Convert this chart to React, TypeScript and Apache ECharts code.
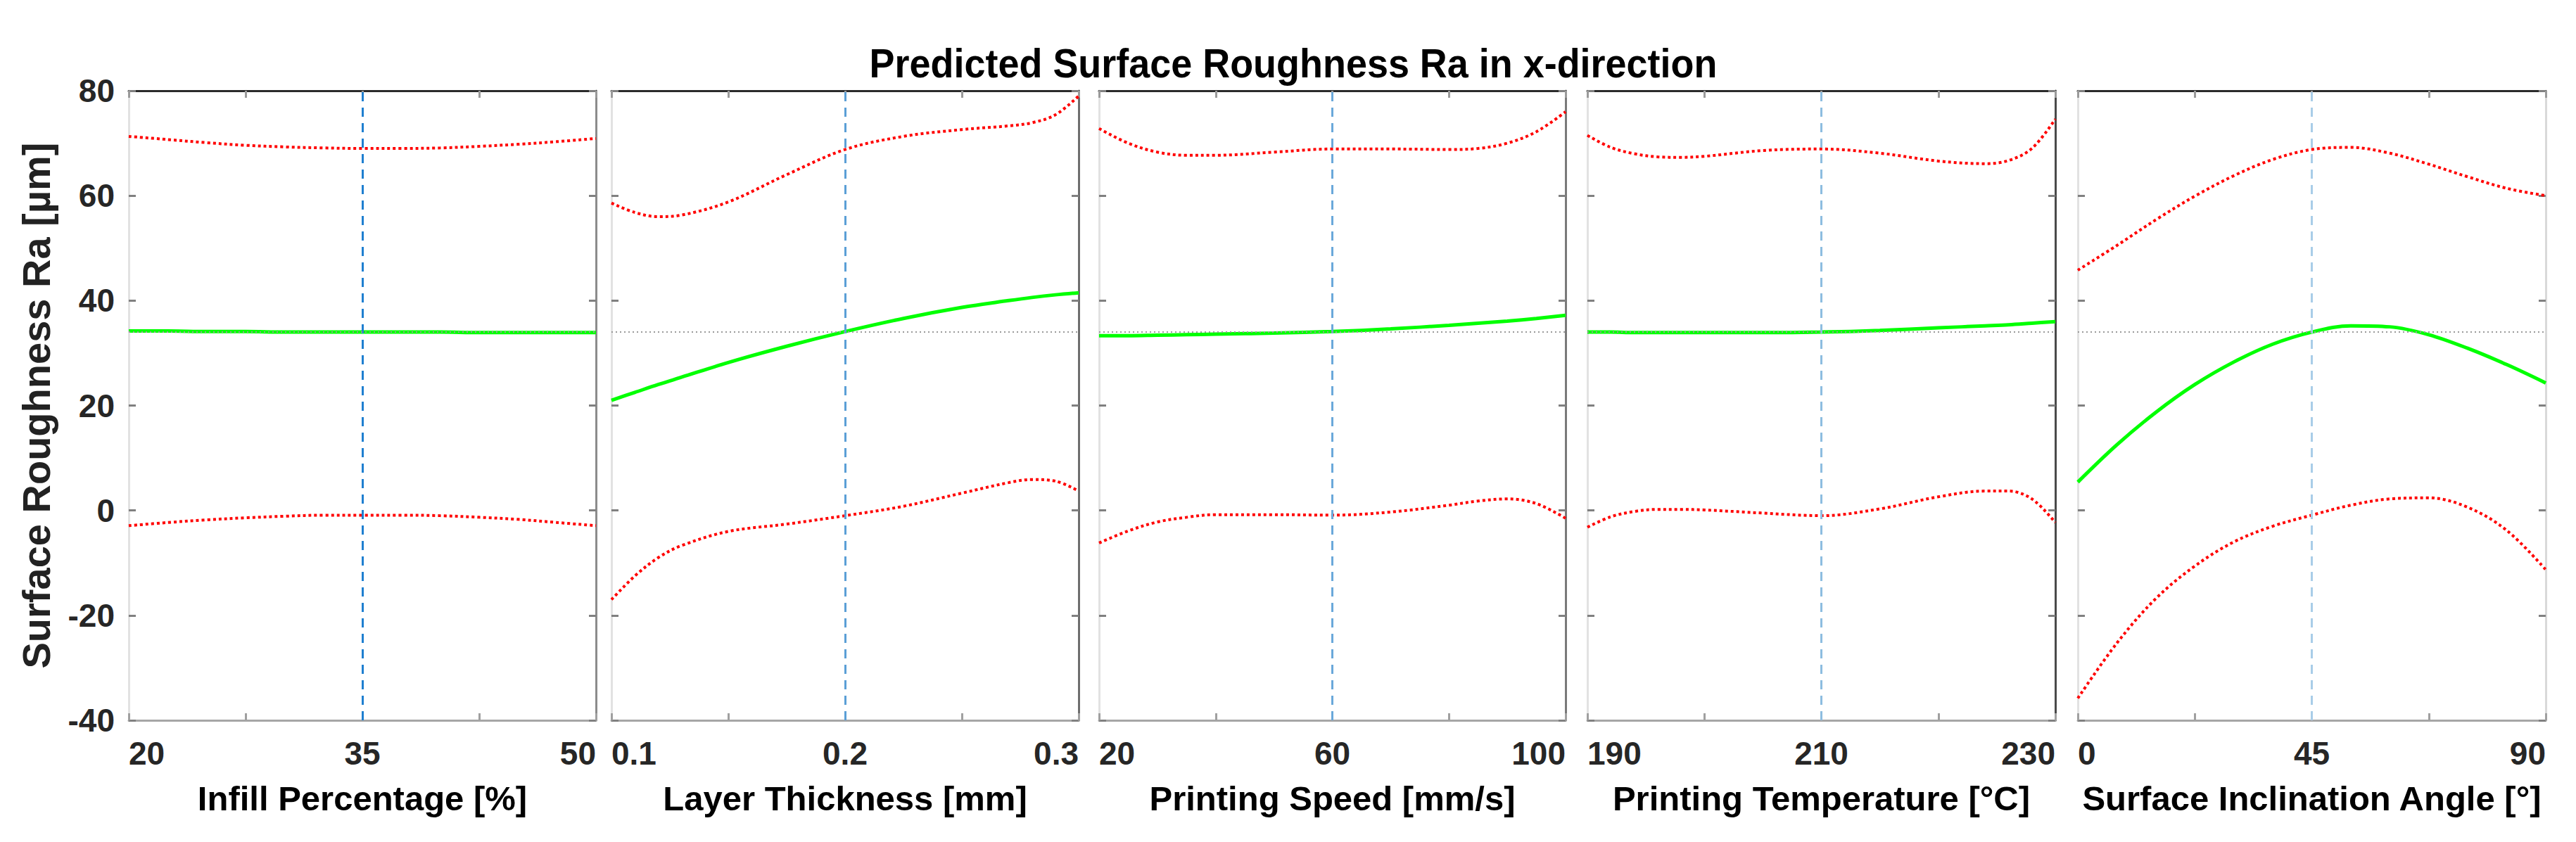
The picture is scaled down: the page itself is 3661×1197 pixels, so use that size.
import React, { useEffect, useRef } from "react";
import * as echarts from "echarts";

// ---------- data ----------
const titleText = "Predicted Surface Roughness Ra in x-direction";
const yAxisTitle = "Surface Roughness Ra [µm]";
const yMin = -40;
const yMax = 80;
const yStep = 20;
const meanLevel = 34;

const infillX = [20, 22.5, 25, 27.5, 30, 32.5, 35, 37.5, 40, 42.5, 45, 47.5, 50];
const infillUpper = [71.3, 70.7, 70.1, 69.6, 69.3, 69.1, 69.0, 69.0, 69.1, 69.4, 69.8, 70.3, 70.9];
const infillMean = [34.2, 34.2, 34.1, 34.1, 34.0, 34.0, 34.0, 34.0, 34.0, 33.9, 33.9, 33.9, 33.9];
const infillLower = [-2.9, -2.3, -1.8, -1.4, -1.1, -0.9, -0.9, -0.9, -1.0, -1.3, -1.7, -2.3, -2.9];
const infillTicks = ["20", "35", "50"];

const layerX = [0.1, 0.11, 0.12, 0.13, 0.15, 0.175, 0.2, 0.225, 0.25, 0.27, 0.28, 0.29, 0.3];
const layerUpper = [58.6, 56.8, 56.0, 56.3, 58.8, 64.0, 68.8, 71.3, 72.6, 73.3, 73.9, 75.4, 79.0];
const layerMean = [21.0, 22.5, 24.0, 25.4, 28.2, 31.3, 34.1, 36.6, 38.7, 40.0, 40.6, 41.1, 41.5];
const layerLower = [-17.0, -12.5, -9.0, -6.7, -4.0, -2.6, -1.0, 0.8, 3.3, 5.3, 5.9, 5.6, 3.7];
const layerTicks = ["0.1", "0.2", "0.3"];

const speedX = [20, 25, 30, 35, 40, 50, 60, 70, 80, 85, 90, 95, 100];
const speedUpper = [72.8, 70.0, 68.3, 67.7, 67.7, 68.3, 68.9, 68.9, 68.8, 69.0, 70.0, 72.2, 76.0];
const speedMean = [33.3, 33.3, 33.4, 33.5, 33.6, 33.8, 34.1, 34.6, 35.3, 35.7, 36.1, 36.6, 37.2];
const speedLower = [-6.2, -3.9, -2.2, -1.3, -0.8, -0.8, -0.9, -0.3, 1.0, 1.8, 2.2, 1.3, -1.5];
const speedTicks = ["20", "60", "100"];

const tempX = [190, 192, 194, 196, 198, 200, 205, 210, 215, 220, 224, 226, 228, 230];
const tempUpper = [71.5, 69.2, 68.0, 67.4, 67.3, 67.5, 68.6, 68.9, 68.1, 66.6, 66.1, 66.7, 69.0, 74.6];
const tempMean = [34.0, 34.0, 33.9, 33.9, 33.9, 33.9, 33.9, 34.0, 34.3, 34.8, 35.2, 35.4, 35.7, 36.0];
const tempLower = [-3.2, -1.2, -0.2, 0.2, 0.2, 0.1, -0.5, -1.0, 0.3, 2.6, 3.7, 3.7, 2.2, -2.3];
const tempTicks = ["190", "210", "230"];

const angleX = [0, 7.5, 15, 22.5, 30, 37.5, 45, 52.5, 60, 67.5, 75, 82.5, 90];
const angleUpper = [45.8, 50.5, 55.4, 59.9, 63.8, 66.9, 68.8, 69.2, 68.1, 66.0, 63.6, 61.4, 60.0];
const angleMean = [5.4, 12.5, 18.7, 24.0, 28.3, 31.7, 34.0, 35.2, 35.0, 33.5, 30.9, 27.8, 24.3];
const angleLower = [-35.8, -25.3, -16.8, -10.6, -6.0, -3.0, -0.9, 1.0, 2.2, 2.4, 0.6, -3.8, -11.3];
const angleTicks = ["0", "45", "90"];

const xNames = [
  "Infill Percentage [%]",
  "Layer Thickness [mm]",
  "Printing Speed [mm/s]",
  "Printing Temperature [°C]",
  "Surface Inclination Angle [°]",
];
const xMins = [20, 0.1, 20, 190, 0];
const xMaxs = [50, 0.3, 100, 230, 90];
const xCenters = [35, 0.2, 60, 210, 45];

// ---------- layout / style ----------
const W = 3661;
const H = 1197;
const gridLefts = [183, 869, 1562, 2256, 2953];
const gridWidths = [664, 664, 663, 665, 665];
const gridTop = 129;
const gridHeight = 895;
const rightLineColors = ["#8c8c8c", "#6e6e6e", "#7a7a7a", "#4a4a4a", "#d9d9d9"];
const dashColors = ["#1f7fd0", "#5b9fd6", "#6aa8da", "#8dbde0", "#a9cde8"];
const FONT = "'Liberation Sans', Arial, Helvetica, sans-serif";

function buildOption() {
  const xs = [infillX, layerX, speedX, tempX, angleX];
  const ups = [infillUpper, layerUpper, speedUpper, tempUpper, angleUpper];
  const means = [infillMean, layerMean, speedMean, tempMean, angleMean];
  const lows = [infillLower, layerLower, speedLower, tempLower, angleLower];
  const ticks = [infillTicks, layerTicks, speedTicks, tempTicks, angleTicks];

  const grid: any[] = [];
  const xAxis: any[] = [];
  const yAxis: any[] = [];
  const series: any[] = [];

  for (let i = 0; i < 5; i++) {
    grid.push({
      left: gridLefts[i],
      top: gridTop,
      width: gridWidths[i],
      height: gridHeight,
      containLabel: false,
      outerBoundsMode: "none",
    });
    const mn = xMins[i];
    const mx = xMaxs[i];
    const range = mx - mn;
    const tickVals = [mn, xCenters[i], mx];
    const labs = ticks[i];
    // bottom axis
    xAxis.push({
      type: "value",
      gridIndex: i,
      position: "bottom",
      min: mn,
      max: mx,
      interval: range / 4,
      name: xNames[i],
      nameLocation: "middle",
      nameGap: 86,
      nameTextStyle: { fontFamily: FONT, fontWeight: "bold", fontSize: 49, color: "#000" },
      axisLine: { show: true, onZero: false, lineStyle: { color: "#a6a6a6", width: 3 } },
      axisTick: { show: true, inside: true, length: 10, lineStyle: { color: "#a0a0a0", width: 3 } },
      axisLabel: {
        show: true,
        margin: 24,
        showMinLabel: true,
        showMaxLabel: true,
        alignMinLabel: "left",
        alignMaxLabel: "right",
        fontFamily: FONT,
        fontWeight: "bold",
        fontSize: 46,
        color: "#262626",
        formatter: (v: number) => {
          const k = tickVals.findIndex((t) => Math.abs(t - v) < range * 1e-6);
          return k >= 0 ? labs[k] : "";
        },
      },
      splitLine: { show: false },
    });
    // top axis (box + mirrored ticks)
    xAxis.push({
      type: "value",
      gridIndex: i,
      position: "top",
      min: mn,
      max: mx,
      interval: range / 4,
      axisLine: { show: true, onZero: false, lineStyle: { color: "#2b2b2b", width: 3 } },
      axisTick: { show: true, inside: true, length: 10, lineStyle: { color: "#9a9a9a", width: 3 } },
      axisLabel: { show: false },
      splitLine: { show: false },
    });
    // left axis
    yAxis.push({
      type: "value",
      gridIndex: i,
      position: "left",
      min: yMin,
      max: yMax,
      interval: yStep,
      name: i === 0 ? yAxisTitle : "",
      nameLocation: "middle",
      nameGap: 104,
      nameRotate: 90,
      nameTextStyle: { fontFamily: FONT, fontWeight: "bold", fontSize: 56, color: "#222" },
      axisLine: { show: true, onZero: false, lineStyle: { color: "#e2e2e2", width: 3 } },
      axisTick: { show: true, inside: true, length: 10, lineStyle: { color: "#808080", width: 3 } },
      axisLabel: {
        show: i === 0,
        margin: 20,
        fontFamily: FONT,
        fontWeight: "bold",
        fontSize: 46,
        color: "#262626",
      },
      splitLine: { show: false },
    });
    // right axis
    yAxis.push({
      type: "value",
      gridIndex: i,
      position: "right",
      min: yMin,
      max: yMax,
      interval: yStep,
      axisLine: { show: true, onZero: false, lineStyle: { color: rightLineColors[i], width: 3 } },
      axisTick: { show: true, inside: true, length: 10, lineStyle: { color: "#808080", width: 3 } },
      axisLabel: { show: false },
      splitLine: { show: false },
    });

    const xi = i * 2;
    const yi = i * 2;
    const pair = (arr: number[]) => xs[i].map((x, k) => [x, arr[k]]);

    series.push({
      type: "line",
      xAxisIndex: xi,
      yAxisIndex: yi,
      data: pair(ups[i]),
      smooth: 0.35,
      showSymbol: false,
      symbol: "none",
      lineStyle: { color: "#ff0000", width: 4, type: [4, 4] },
      z: 3,
      markLine: {
        silent: true,
        symbol: "none",
        label: { show: false },
        data: [
          { xAxis: xCenters[i], lineStyle: { color: dashColors[i], width: 3, type: [13, 9] } },
          { yAxis: meanLevel, lineStyle: { color: "#9a9a9a", width: 2, type: [2, 4] } },
        ],
      },
    });
    series.push({
      type: "line",
      xAxisIndex: xi,
      yAxisIndex: yi,
      data: pair(lows[i]),
      smooth: 0.35,
      showSymbol: false,
      symbol: "none",
      lineStyle: { color: "#ff0000", width: 4, type: [4, 4] },
      z: 3,
    });
    series.push({
      type: "line",
      xAxisIndex: xi,
      yAxisIndex: yi,
      data: pair(means[i]),
      smooth: 0.35,
      showSymbol: false,
      symbol: "none",
      lineStyle: { color: "#00ff00", width: 5 },
      z: 4,
    });
  }

  return {
    animation: false,
    backgroundColor: "#ffffff",
    grid,
    xAxis,
    yAxis,
    series,
    graphic: [
      {
        type: "text",
        x: 1838,
        y: 90,
        scaleX: 0.93,
        style: {
          text: titleText,
          textAlign: "center",
          textVerticalAlign: "middle",
          fontFamily: FONT,
          fontWeight: "bold",
          fontSize: 58,
          fill: "#000",
        },
      },
    ],
  };
}

export default function App() {
  const ref = useRef<HTMLDivElement>(null);
  useEffect(() => {
    document.body.style.margin = "0";
    const chart = echarts.init(ref.current as HTMLDivElement, null, {
      renderer: "svg",
      width: W,
      height: H,
    });
    chart.setOption(buildOption() as any);
    return () => chart.dispose();
  }, []);
  return <div ref={ref} style={{ width: W, height: H }} />;
}
